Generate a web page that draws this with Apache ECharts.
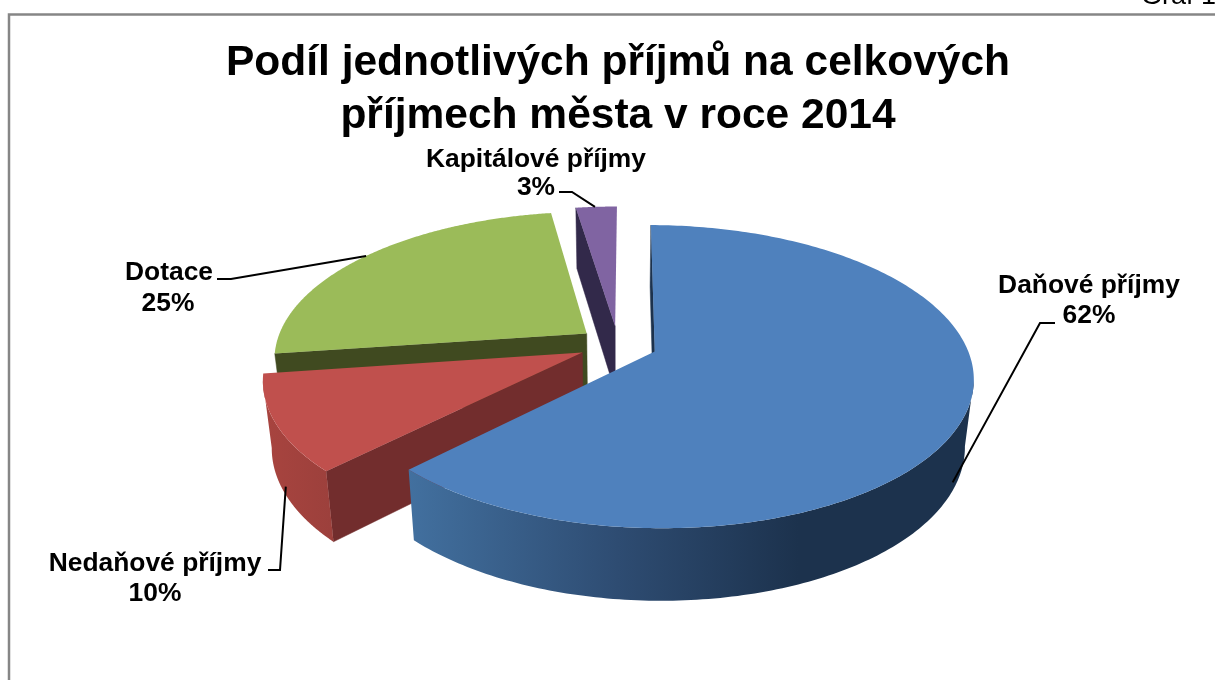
<!DOCTYPE html>
<html>
<head>
<meta charset="utf-8">
<title>Graf 1</title>
<style>
  html, body { margin: 0; padding: 0; background: #fff; overflow: hidden; }
  #chart { width: 1215px; height: 680px; }
</style>
<script src="https://cdn.jsdelivr.net/npm/echarts@6/dist/echarts.min.js"></script>
</head>
<body>
<div id="chart"></div>
<script>
// data
var categories = ['Daňové příjmy', 'Nedaňové příjmy', 'Dotace', 'Kapitálové příjmy'];
var shares = [62.4, 10.3, 24.8, 2.5];
var titleLines = ['Podíl jednotlivých příjmů na celkových', 'příjmech města v roce 2014'];

// colours per slice
var topColors = ['#4f81bd', '#c0504d', '#9bbb59', '#8064a2'];
var wallColors = ['#1c324d', '#722d2d', '#404a20', '#32294a'];
var sideStops = [
  [[0, '#42709f'], [0.37, '#2e4c72'], [0.69, '#1c324d'], [1, '#1c324d']],
  [[0, '#a8443f'], [1, '#9c403c']],
  [[0, '#404a20'], [1, '#404a20']],
  [[0, '#32294a'], [1, '#32294a']]
];
// back to front: purple, green, red, blue
var drawOrder = [40, 30, 20, 10];

// label layout: text centre, leader elbow points, where the leader touches the slice (angle, depth)
var labelAt = [[1089, 285.5], [155, 563.5], [169, 272.5], [536, 159.5]];
var percentAt = [[1089, 315.5], [155, 593.5], [168, 303.5], [536, 187.5]];
var leaderElbow = [
  [[1055, 323], [1040, 323]],
  [[268, 570], [280, 570]],
  [[217, 279], [231, 279]],
  [[559, 192], [572, 192]]
];
var leaderTouch = [[117, 0.85], [242, 0.85], [307, 0], [355.5, 0]];

// fake 3D projection of the pie, the lower disc is a bit narrower than the top one
var pie = { cx: 618, cy: 344.3, rx: 311, ry: 145, persp: 0.165, depth: 66, shrink: 0.025, explode: 0.127, start: 0.3 };

function project(m, r, deg, z) {
  var a = deg * Math.PI / 180, mid = m * Math.PI / 180;
  var u = pie.explode * Math.sin(mid) + r * Math.sin(a);
  var v = pie.explode * Math.cos(mid) + r * Math.cos(a);
  var s = 1 / (1 + pie.persp * v);
  return [pie.cx + pie.rx * u * s * (1 - z * pie.shrink), pie.cy - pie.ry * v * s + z * pie.depth * Math.sqrt(s)];
}

var total = shares.reduce(function (a, b) { return a + b; }, 0);
var ranges = [];
shares.reduce(function (acc, v) {
  var next = acc + v / total * 360;
  ranges.push([acc, next]);
  return next;
}, pie.start);

function renderSlice(params, api) {
  var i = params.dataIndex;
  var from = ranges[i][0], to = ranges[i][1], m = (from + to) / 2;
  var base = drawOrder[i];
  var kids = [];

  // from this view only the wall on the starting edge of a slice shows
  kids.push({
    type: 'polygon', z2: base + 1,
    shape: { points: [project(m, 0, from, 0), project(m, 1, from, 0), project(m, 1, from, 1), project(m, 0, from, 1)] },
    style: { fill: wallColors[i], stroke: wallColors[i], lineWidth: 0.5 }
  });

  // rim: keep only the part turned to the viewer (x falls while the angle grows)
  var up = [], down = [], steps = 240, prev = null;
  for (var k = 0; k <= steps; k++) {
    var deg = from + (to - from) * k / steps;
    var p = project(m, 1, deg, 0);
    if (prev && p[0] < prev[0]) {
      if (!up.length) { up.push(prev); down.push(project(m, 1, deg - (to - from) / steps, 1)); }
      up.push(p);
      down.push(project(m, 1, deg, 1));
    }
    prev = p;
  }
  if (up.length) {
    var stops = sideStops[i].map(function (s) { return { offset: s[0], color: s[1] }; });
    kids.push({
      type: 'polygon', z2: base + 2,
      shape: { points: up.concat(down.reverse()) },
      style: { fill: { type: 'linear', x: 0, y: 0, x2: 1, y2: 0, colorStops: stops } }
    });
  }

  var top = [project(m, 0, from, 0)];
  for (var t = 0; t <= steps; t++) top.push(project(m, 1, from + (to - from) * t / steps, 0));
  kids.push({ type: 'polygon', z2: base + 3, shape: { points: top }, style: { fill: topColors[i] } });

  // leader and data label
  var touch = project(m, 1, leaderTouch[i][0], leaderTouch[i][1]);
  kids.push({
    type: 'polyline', z2: 400,
    shape: { points: leaderElbow[i].concat([touch]) },
    style: { stroke: '#000', lineWidth: 2, fill: null }
  });
  var font = 'bold 26.4px "Liberation Sans", Arial, sans-serif';
  kids.push({
    type: 'text', z2: 401, x: labelAt[i][0], y: labelAt[i][1],
    style: { text: categories[i], font: font, fill: '#000', align: 'center', verticalAlign: 'middle' }
  });
  kids.push({
    type: 'text', z2: 401, x: percentAt[i][0], y: percentAt[i][1],
    style: { text: Math.round(api.value(0) / total * 100) + '%', font: font, fill: '#000', align: 'center', verticalAlign: 'middle' }
  });
  return { type: 'group', children: kids };
}

var chart = echarts.init(document.getElementById('chart'), null, { renderer: 'canvas' });
chart.setOption({
  animation: false,
  backgroundColor: '#fff',
  title: {
    text: titleLines.join('\n'),
    left: 613, top: 32, textAlign: 'center',
    textStyle: { fontFamily: '"Liberation Sans", Arial, sans-serif', fontWeight: 'bold', fontSize: 42.5, lineHeight: 53, color: '#000' }
  },
  graphic: [
    { type: 'polyline', silent: true, shape: { points: [[9, 680], [9, 14.5], [1215, 14.5]] }, style: { stroke: '#868686', lineWidth: 2.5, fill: null } },
    { type: 'text', silent: true, left: 1141, top: -17, style: { text: 'Graf 1', font: '27px "Liberation Sans", Arial, sans-serif', fill: '#000' } }
  ],
  series: [{
    type: 'custom',
    coordinateSystem: 'none',
    silent: true,
    renderItem: renderSlice,
    data: shares.map(function (v, i) { return { name: categories[i], value: [v] }; })
  }]
});
</script>
</body>
</html>
